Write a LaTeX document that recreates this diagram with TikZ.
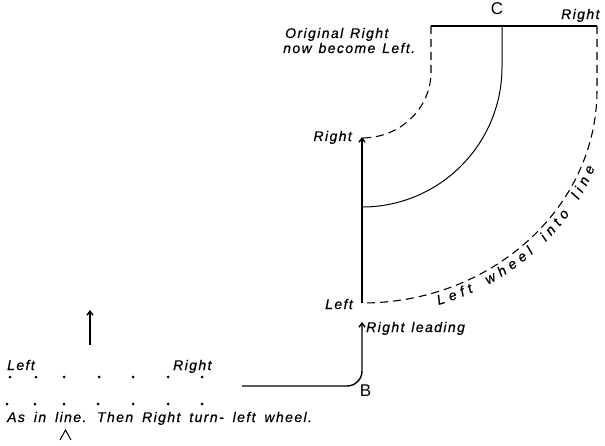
\documentclass[tikz,border=0pt]{standalone}
\usepackage{fontspec}
\setmainfont{Liberation Sans}
\newfontfamily\lblfont{Liberation Sans}[LetterSpace=10,WordSpace=1.6,FakeBold=0.6]
\newfontfamily\capfont{Liberation Sans}[LetterSpace=10,WordSpace=1.3,FakeBold=0.6]
\usetikzlibrary{arrows.meta,decorations.text}
\tikzset{
  lbl/.style={font=\lblfont\itshape\fontsize{14}{15}\selectfont, inner sep=0pt},
  caplbl/.style={font=\capfont\itshape\fontsize{14}{15}\selectfont, inner sep=0pt},
  big/.style={font=\fontsize{17}{20}\selectfont, inner sep=0pt},
  thickline/.style={line width=1.4pt},
  thinline/.style={line width=1pt},
  dashline/.style={line width=1.1pt, dash pattern=on 8pt off 5pt},
  tipped/.style={-{Straight Barb[length=4pt,width=6pt]}},
  dot/.style={circle, fill, inner sep=0pt, minimum size=3pt}
}
\begin{document}
\begin{tikzpicture}[x=1pt,y=1pt]
\useasboundingbox (0,0) rectangle (605,-446);
% key coordinates
\coordinate (P) at (362,-303);
\coordinate (Q) at (362,-137);
\coordinate (TL) at (431,-26);
\coordinate (TM) at (502,-26);
\coordinate (TR) at (597,-26);
\coordinate (Bs) at (242,-386);
\coordinate (Bc) at (362,-386);
\coordinate (Btip) at (362,-322);
\coordinate (fa) at (90,-345);
\coordinate (fb) at (90,-310);
\coordinate (ca) at (60,-440);
\coordinate (cb) at (65.5,-430);
\coordinate (cc) at (71,-440);
% lines
\draw[thickline, tipped] (P) -- (Q);
\draw[thickline] (TL) -- (TR);
\draw[dashline] (TL) -- ++(0,-46) arc[start angle=0,end angle=-90,x radius=69,y radius=66];
\draw[thinline] (TM) -- ++(0,-41) arc[start angle=0,end angle=-90,radius=140];
\draw[dashline] (TR) -- ++(0,-64) arc[start angle=0,end angle=-90,x radius=235,y radius=213];
\path[decorate, decoration={text along path,
   text={|\lblfont\itshape\fontsize{14}{15}\selectfont|Left wheel into line},
   text align={fit to path}, raise=-13pt}]
   (362,-90) ++(-72:235 and 213) arc[start angle=-72,end angle=-20,x radius=235,y radius=213];
\draw[thickline, tipped, rounded corners=15pt] (Bs) -- (Bc) -- (Btip);
\draw[thickline, tipped] (fa) -- (fb);
\draw[line width=1pt] (ca) -- (cb) -- (cc);
% labels
\node[lbl, anchor=base west] (orig1) at (285,-38) {Original Right};
\node[lbl, anchor=base west] (orig2) at (283,-53) {now become Left.};
\node[big] (C) at (497,-9) {C};
\node[lbl, anchor=base west] (rtop) at (561,-19) {Right};
\node[lbl, anchor=base east] (rmid) at (352,-141) {Right};
\node[lbl, anchor=base east] (lmid) at (353,-309) {Left};
\node[lbl, anchor=base west] (rlead) at (366,-332) {Right leading};
\node[big] (B) at (365.5,-390.5) {B};
\node[lbl, anchor=base west] (fl) at (7,-370) {Left};
\node[lbl, anchor=base west] (fr) at (173,-370) {Right};
\node[caplbl, anchor=base west] (cap) at (7,-422) {As in line. Then Right turn- left wheel.};
% dots
\foreach \x [count=\i] in {10,36,64,99,133,168,202} {
  \node[dot] (r\i) at (\x,-377) {};
}
\foreach \x [count=\i] in {7,35,64,98,133,168,202} {
  \node[dot] (s\i) at (\x,-404) {};
}
\end{tikzpicture}
\end{document}
